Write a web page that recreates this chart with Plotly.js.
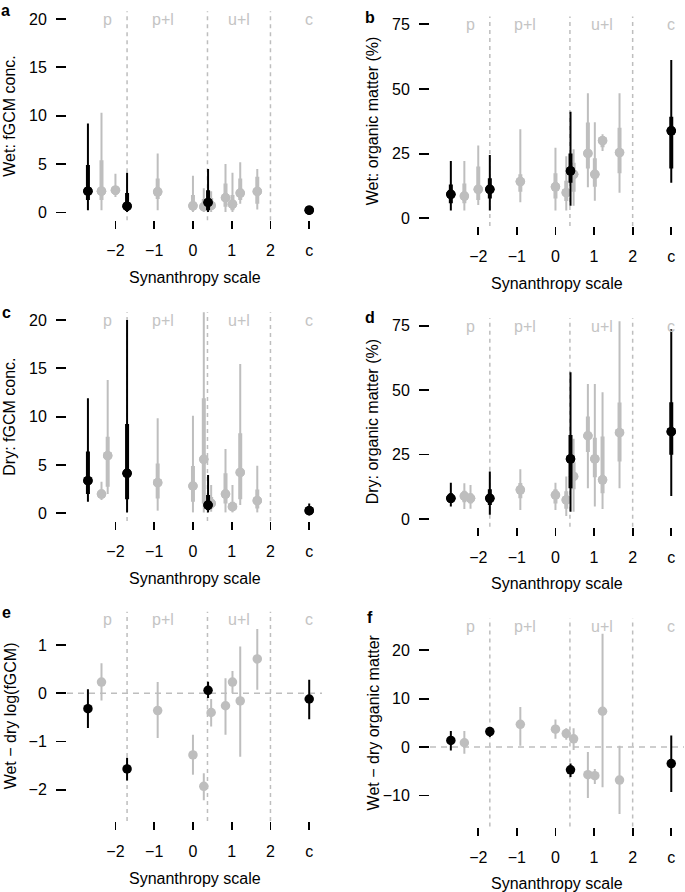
<!DOCTYPE html>
<html><head><meta charset="utf-8">
<script src="https://cdn.plot.ly/plotly-3.0.1.min.js"></script>
<style>html,body{margin:0;padding:0;background:#fff}</style>
</head><body><div id="chart" style="width:685px;height:892px"></div>
<script>
// ---------- shared axis text ----------
const xTickVals = [-2, -1, 0, 1, 2, 3];
const xTickText = ['\u22122', '\u22121', '0', '1', '2', 'c'];
const zoneNames = ['p', 'p+l', 'u+l', 'c'];
const zoneLabelX = [-2.2, -0.78, 1.2, 3.0];
const zoneBounds = [-1.7, 0.375, 2];
const xTitle = 'Synanthropy scale';

// ---------- species positions ----------
const xWet  = [-2.71, -2.36, -2.0, -1.70, -0.91, 0, 0.28, 0.39, 0.47, 0.84, 1.02, 1.22, 1.66, 3.0];
const xDry  = [-2.71, -2.36, -2.2, -1.70, -0.91, 0, 0.28, 0.39, 0.47, 0.84, 1.02, 1.22, 1.66, 3.0];
const blackWetDry = [1, 0, 0, 1, 0, 0, 0, 1, 0, 0, 0, 0, 0, 1];
const xDiff = [-2.71, -2.36, -1.70, -0.91, 0, 0.28, 0.39, 0.47, 0.84, 1.02, 1.22, 1.66, 3.0];
const blackDiff = [1, 0, 1, 0, 0, 0, 1, 0, 0, 0, 0, 0, 1];

// ---------- a: Wet fGCM ----------
const aMid  = [2.2, 2.2, 2.3, 0.65, 2.14, 0.69, 0.59, 1.03, 0.72, 1.52, 0.86, 2.0, 2.17, 0.24];
const aLo   = [0.24, 0.24, 1.6, 0.05, 0.24, 0.05, 0.05, 0.05, 0.05, 0.05, 0.05, 0.9, 0.3, 0.1];
const aHi   = [9.2, 10.3, 4.0, 4.1, 6.1, 3.8, 2.5, 4.5, 2.2, 5.0, 4.1, 5.2, 4.5, 0.5];
const aLo50 = [1.3, 1.28, 1.8, 0.14, 1.4, 0.24, 0.24, 0.24, 0.3, 0.6, 0.24, 1.3, 0.9, 0.15];
const aHi50 = [4.9, 5.4, 2.7, 2.0, 3.5, 1.8, 1.4, 2.3, 1.5, 3.0, 1.8, 3.5, 3.7, 0.4];

// ---------- b: Wet organic matter ----------
const bMid  = [9.3, 8.6, 11.2, 11.2, 14.2, 12.2, 9.9, 18.3, 17.0, 25.1, 17.0, 30.0, 25.4, 33.8];
const bLo   = [3.0, 3.0, 5.2, 3.0, 6.2, 3.0, 3.0, 4.9, 4.9, 12.0, 6.8, 26.0, 9.9, 13.8];
const bHi   = [22.2, 22.2, 28.1, 24.5, 34.4, 27.3, 24.0, 41.2, 26.7, 48.3, 37.1, 32.5, 48.3, 61.2];
const bLo50 = [5.8, 5.8, 7.1, 7.7, 10.3, 7.7, 6.7, 13.8, 10.3, 19.3, 12.2, 27.5, 17.4, 19.3];
const bHi50 = [13.1, 13.5, 20.0, 15.5, 17.0, 17.4, 14.5, 25.1, 21.5, 37.0, 23.2, 31.5, 35.0, 39.3];

// ---------- c: Dry fGCM ----------
const cMid  = [3.38, 2.0, 5.97, 4.14, 3.17, 2.83, 5.59, 0.86, 1.03, 2.0, 0.69, 4.24, 1.31, 0.28];
const cLo   = [1.2, 1.38, 2.0, 0.1, 0.28, 0.1, 0.1, 0.1, 0.17, 0.1, 0.1, 0.86, 0.1, 0.0];
const cHi   = [11.9, 3.28, 13.8, 20.0, 9.83, 10.1, 30.0, 3.97, 2.93, 6.66, 2.93, 15.45, 4.93, 1.03];
const cLo50 = [2.0, 1.7, 2.76, 1.45, 1.55, 1.2, 1.03, 0.34, 0.5, 1.03, 0.34, 1.45, 0.5, 0.14];
const cHi50 = [6.4, 2.4, 7.93, 9.24, 5.17, 4.9, 11.9, 1.9, 1.7, 4.14, 1.2, 8.28, 2.48, 0.62];

// ---------- d: Dry organic matter ----------
const dMid  = [8.0, 8.9, 8.0, 8.0, 11.3, 9.3, 7.4, 23.3, 16.5, 32.3, 23.3, 15.2, 33.5, 33.9];
const dLo   = [4.8, 3.9, 4.0, 1.6, 3.5, 3.5, 1.2, 2.8, 2.8, 11.9, 4.8, 3.9, 11.9, 8.9];
const dHi   = [14.1, 13.9, 13.2, 18.4, 19.3, 14.1, 16.5, 56.9, 31.1, 52.4, 52.4, 49.2, 76.7, 73.6];
const dLo50 = [6.4, 6.5, 6.0, 5.4, 8.0, 6.0, 4.0, 11.9, 11.5, 26.0, 16.2, 10.0, 22.3, 24.9];
const dHi50 = [10.0, 11.0, 10.0, 11.5, 14.0, 11.5, 10.8, 32.6, 22.0, 39.8, 31.5, 32.0, 45.2, 45.3];

// ---------- e: Wet - dry log(fGCM) ----------
const eMid = [-0.32, 0.23, -1.57, -0.36, -1.28, -1.93, 0.06, -0.40, -0.26, 0.23, -0.16, 0.71, -0.12];
const eLo  = [-0.72, -0.15, -1.81, -0.93, -1.69, -2.22, -0.10, -0.69, -0.86, 0.0, -1.32, 0.07, -0.54];
const eHi  = [0.08, 0.62, -1.34, 0.23, -0.86, -1.66, 0.24, -0.12, 0.31, 0.46, 0.97, 1.33, 0.28];

// ---------- f: Wet - dry organic matter ----------
const fMid = [1.38, 0.9, 3.2, 4.7, 3.7, 2.8, -4.7, 1.7, -5.7, -5.9, 7.4, -6.8, -3.4];
const fLo  = [-0.7, -1.4, 2.1, 0.3, 1.7, 1.5, -6.2, -0.6, -10.5, -7.6, -8.3, -13.8, -9.3];
const fHi  = [3.3, 3.3, 4.1, 8.3, 5.7, 3.9, -3.4, 3.9, -1.0, -4.5, 23.4, 0.3, 2.4];

// ---------- styling / layout ----------
const W = 685, H = 892;
const BLACK = '#000000', GREY = '#bebebe', LABELGREY = '#c4c4c4';
const FONT = 'Liberation Sans, Arial, Helvetica, sans-serif';
const FS = 16;

const panels = [
  {id:'a', x:xWet, blk:blackWetDry, mid:aMid, lo:aLo, hi:aHi, lo50:aLo50, hi50:aHi50,
   range:[-0.8, 20.8], yt:[0,5,10,15,20], title:'Wet: fGCM conc.', px:[67,322], py:[11.3,220.2], letterXY:[5,11], tX:10},
  {id:'b', x:xWet, blk:blackWetDry, mid:bMid, lo:bLo, hi:bHi, lo50:bLo50, hi50:bHi50,
   range:[-3, 78], yt:[0,25,50,75], title:'Wet: organic matter (%)', px:[430,684], py:[16.5,226.1], letterXY:[370,17], tX:372},
  {id:'c', x:xDry, blk:blackWetDry, mid:cMid, lo:cLo, hi:cHi, lo50:cLo50, hi50:cHi50,
   range:[-0.8, 20.8], yt:[0,5,10,15,20], title:'Dry: fGCM conc.', px:[67,322], py:[312.3,521.1], letterXY:[6,313], tX:10},
  {id:'d', x:xDry, blk:blackWetDry, mid:dMid, lo:dLo, hi:dHi, lo50:dLo50, hi50:dHi50,
   range:[-3, 78], yt:[0,25,50,75], title:'Dry: organic matter (%)', px:[430,684], py:[318,526.7], letterXY:[370,317], tX:372},
  {id:'e', x:xDiff, blk:blackDiff, mid:eMid, lo:eLo, hi:eHi, lo50:null, hi50:null,
   range:[-2.65, 1.69], yt:[-2,-1,0,1], title:'Wet \u2212 dry log(fGCM)', px:[67,322], py:[611.7,821], letterXY:[6,612], tX:10, zero:true},
  {id:'f', x:xDiff, blk:blackDiff, mid:fMid, lo:fLo, hi:fHi, lo50:null, hi50:null,
   range:[-16.4, 26.6], yt:[-10,0,10,20], title:'Wet \u2212 dry organic matter', px:[430,684], py:[618.3,826.5], letterXY:[370,617], tX:373, zero:true}
];

const traces = [];
const layout = {
  width: W, height: H, margin: {l:0, r:0, t:0, b:0},
  paper_bgcolor: '#fff', plot_bgcolor: '#fff', showlegend: false,
  font: {family: FONT, size: FS, color: '#000'},
  annotations: [], shapes: []
};

panels.forEach((p, i) => {
  const k = i === 0 ? '' : String(i + 1);
  const xa = 'x' + k, ya = 'y' + k;
  [0, 1].forEach(isB => {
    const idx = p.mid.map((_, j) => j).filter(j => p.blk[j] === isB);
    const xs = idx.map(j => p.x[j]);
    const ys = idx.map(j => p.mid[j]);
    const col = isB ? BLACK : GREY;
    traces.push({
      type: 'scatter', mode: 'markers', xaxis: xa, yaxis: ya, x: xs, y: ys,
      marker: {size: 9.5, color: col, line: {width: 0}}, hoverinfo: 'skip',
      error_y: {type: 'data', symmetric: false, array: idx.map(j => p.hi[j] - p.mid[j]),
        arrayminus: idx.map(j => p.mid[j] - p.lo[j]), color: col, thickness: 2, width: 0}
    });
    if (p.lo50) {
      traces.push({
        type: 'scatter', mode: 'markers', xaxis: xa, yaxis: ya, x: xs, y: ys,
        marker: {size: 9.5, color: col, line: {width: 0}}, hoverinfo: 'skip',
        error_y: {type: 'data', symmetric: false, array: idx.map(j => p.hi50[j] - p.mid[j]),
          arrayminus: idx.map(j => p.mid[j] - p.lo50[j]), color: col, thickness: 4, width: 0}
      });
    }
  });

  layout['xaxis' + k] = {
    domain: [p.px[0] / W, p.px[1] / W], anchor: ya, range: [-3.25, 3.33],
    tickvals: xTickVals, ticktext: xTickText, ticks: 'outside', ticklen: 8, tickwidth: 1.8,
    tickcolor: '#000', showline: false, showgrid: false, zeroline: false,
    tickfont: {family: FONT, size: FS, color: '#000'}, ticklabelstandoff: 8, fixedrange: true
  };
  layout['yaxis' + k] = {
    domain: [1 - p.py[1] / H, 1 - p.py[0] / H], anchor: xa, range: p.range,
    tickvals: p.yt, ticks: 'outside', ticklen: 10, tickwidth: 1.8, tickcolor: '#000',
    showline: false, showgrid: false, zeroline: false,
    tickfont: {family: FONT, size: FS, color: '#000'}, ticklabelstandoff: 6, fixedrange: true
  };

  // zone boundaries
  zoneBounds.forEach(b => layout.shapes.push({
    type: 'line', xref: xa, yref: ya + ' domain', x0: b, x1: b, y0: 0, y1: 1, layer: 'below',
    line: {color: GREY, width: 1.5, dash: '4px,4px'}
  }));
  if (p.zero) layout.shapes.push({
    type: 'line', xref: xa + ' domain', yref: ya, x0: 0, x1: 1, y0: 0, y1: 0, layer: 'below',
    line: {color: GREY, width: 1.5, dash: '6px,5px'}
  });
  // zone labels
  zoneNames.forEach((n, z) => layout.annotations.push({
    xref: xa, yref: ya + ' domain', x: zoneLabelX[z], y: 1, yshift: -8, yanchor: 'middle',
    xanchor: 'center', text: n, showarrow: false, font: {family: FONT, size: FS, color: LABELGREY}
  }));
  // x title
  layout.annotations.push({
    xref: xa + ' domain', yref: ya + ' domain', x: 0.5, y: 0, yshift: -57, yanchor: 'middle',
    xanchor: 'center', text: xTitle, showarrow: false, font: {family: FONT, size: FS, color: '#000'}
  });
  // y title
  layout.annotations.push({
    xref: 'paper', yref: ya + ' domain', x: p.tX / W, y: 0.5, xanchor: 'center', yanchor: 'middle',
    textangle: -90, text: p.title, showarrow: false, font: {family: FONT, size: FS, color: '#000'}
  });
  // panel letter
  layout.annotations.push({
    xref: 'paper', yref: 'paper', x: p.letterXY[0] / W, y: 1 - p.letterXY[1] / H,
    xanchor: 'center', yanchor: 'middle', text: '<b>' + p.id + '</b>', showarrow: false,
    font: {family: FONT, size: FS, color: '#000'}
  });
});

Plotly.newPlot('chart', traces, layout, {staticPlot: true, displayModeBar: false});
</script>
</body></html>
